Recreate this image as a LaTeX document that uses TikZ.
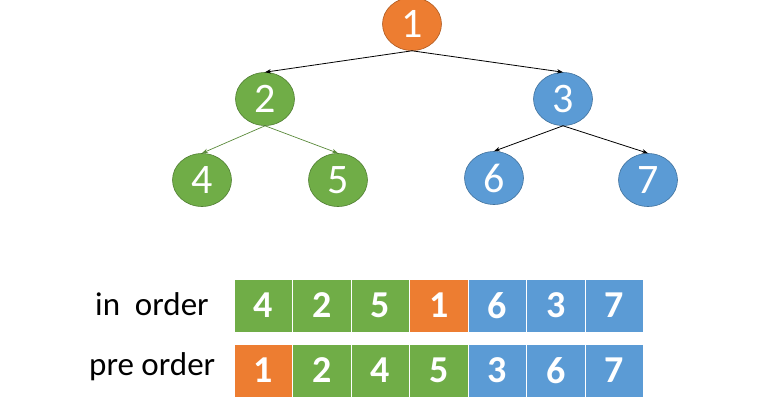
\documentclass[tikz,border=0pt]{standalone}
\usepackage{fontspec}
\setmainfont{Carlito}
\usetikzlibrary{shapes.geometric,arrows.meta}
\definecolor{corange}{HTML}{ED7D31}
\definecolor{cgreen}{HTML}{70AD47}
\definecolor{cblue}{HTML}{5B9BD5}
\definecolor{dorange}{HTML}{AE5A21}
\definecolor{dgreen}{HTML}{507E32}
\definecolor{dblue}{HTML}{41719C}
\definecolor{lgreen}{HTML}{5A8A3A}
\tikzset{
  tnode/.style={ellipse, inner sep=0pt, minimum width=59pt, minimum height=53pt, line width=0.6pt,
     text=white, font=\fontsize{42}{42}\selectfont},
  onode/.style={tnode, fill=corange, draw=dorange},
  gnode/.style={tnode, fill=cgreen, draw=dgreen},
  bnode/.style={tnode, fill=cblue, draw=dblue},
  cell/.style={rectangle, minimum width=58.5pt, minimum height=53pt, inner sep=0pt, draw=white, line width=1pt,
     text=white, font=\fontsize{38}{38}\selectfont\bfseries},
  ocell/.style={cell, fill=corange},
  gcell/.style={cell, fill=cgreen},
  bcell/.style={cell, fill=cblue},
  blkarrow/.style={-{Stealth[length=6pt,width=4.5pt]}, line width=0.8pt, black},
  grnarrow/.style={-{Stealth[length=6pt,width=4.5pt]}, line width=0.7pt, lgreen},
  lbl/.style={anchor=base west, inner sep=0pt, font=\fontsize{33}{33}\selectfont}
}
\begin{document}
\begin{tikzpicture}[x=1pt,y=-1pt]
\useasboundingbox (0,0) rectangle (772,410);
% tree
\node[onode] (n1) at (412,24) {1};
\node[gnode] (n2) at (265,99) {2};
\node[bnode] (n3) at (563,99) {3};
\node[gnode] (n4) at (202,180) {4};
\node[gnode] (n5) at (338,180) {5};
\node[bnode] (n6) at (494,178) {6};
\node[bnode] (n7) at (648,180) {7};
\draw[blkarrow] (n1.south) -- (n2.north);
\draw[blkarrow] (n1.south) -- (n3.north);
\draw[grnarrow] (n2.south) -- (n4.north);
\draw[grnarrow] (n2.south) -- (n5.north);
\draw[blkarrow] (n3.south) -- (n6.north);
\draw[blkarrow] (n3.south) -- (n7.north);
% labels
\node[lbl] (lin) at (95,315) {in\ \ order};
\node[lbl] (lpre) at (89,375) {pre order};
% in order row
\node[gcell] (a1) at (263.25,305.5) {4};
\node[gcell] (a2) at (321.75,305.5) {2};
\node[gcell] (a3) at (380.25,305.5) {5};
\node[ocell] (a4) at (438.75,305.5) {1};
\node[bcell] (a5) at (497.25,305.5) {6};
\node[bcell] (a6) at (555.75,305.5) {3};
\node[bcell] (a7) at (614.25,305.5) {7};
% pre order row
\node[ocell] (b1) at (263.25,370.5) {1};
\node[gcell] (b2) at (321.75,370.5) {2};
\node[gcell] (b3) at (380.25,370.5) {4};
\node[gcell] (b4) at (438.75,370.5) {5};
\node[bcell] (b5) at (497.25,370.5) {3};
\node[bcell] (b6) at (555.75,370.5) {6};
\node[bcell] (b7) at (614.25,370.5) {7};
\end{tikzpicture}
\end{document}
